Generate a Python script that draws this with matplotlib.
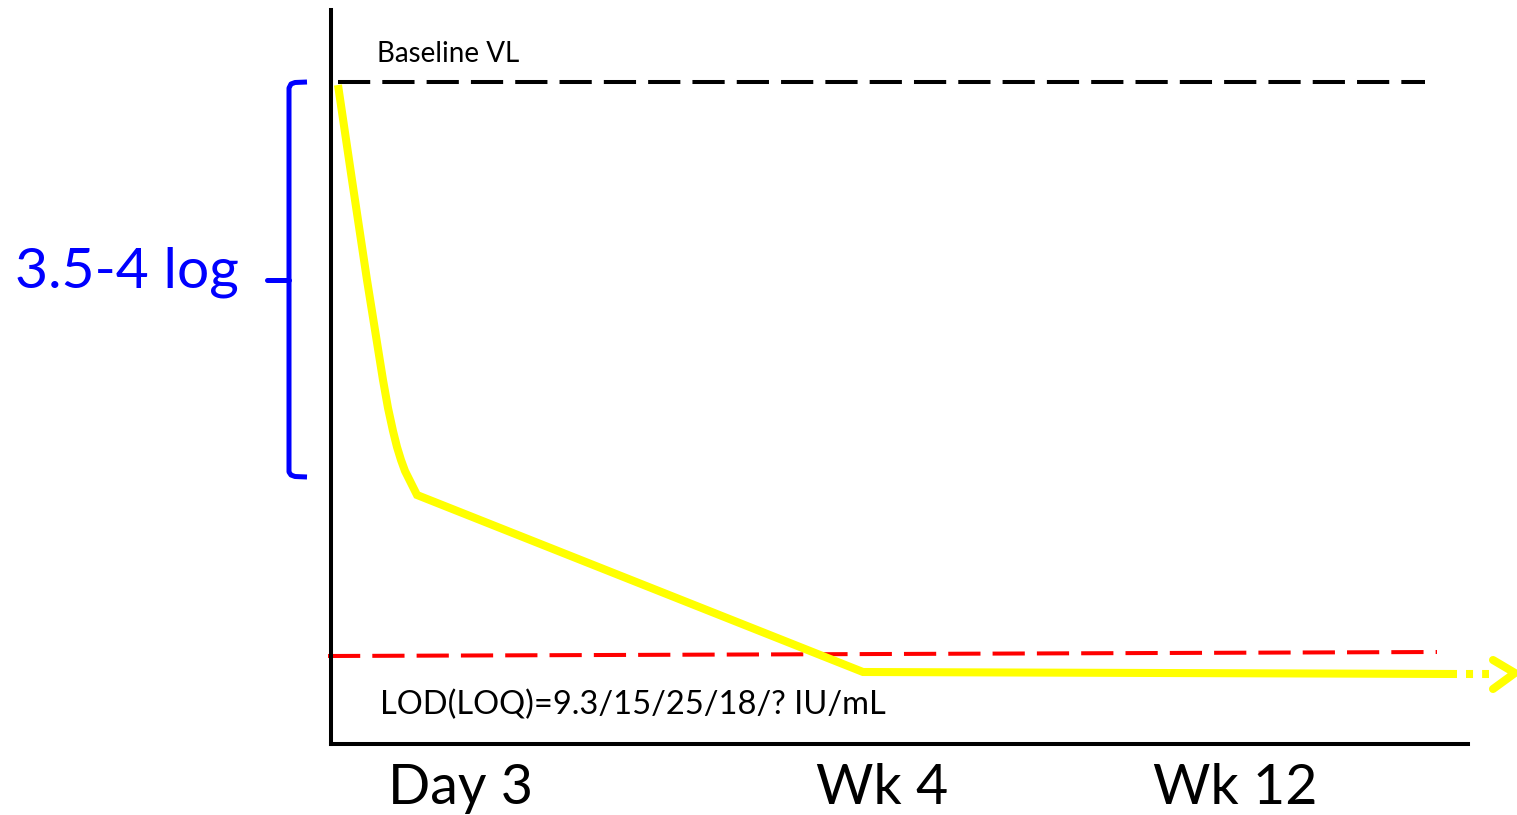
import numpy as np
import matplotlib
matplotlib.use("Agg")
import matplotlib.pyplot as plt

plt.rcParams['font.family'] = ['Lato', 'DejaVu Sans']

# schematic units: x = time (arbitrary), y = viral load (arbitrary log scale)
vl_x = [7, 21, 36, 52, 57, 62, 66, 70, 74, 79, 83, 86, 532, 1126]
vl_y = [659, 564, 464, 364, 336, 313, 297, 284, 273, 263, 255, 249, 72, 70]
tail_x = [1135, 1158]
tail_y = [70, 70]
arrow_x = [1162, 1184, 1162]
arrow_y = [84, 71, 55]

baseline_x = [7, 1094]
baseline_y = [661.5, 661.5]
lod_x = [-3, 1106]
lod_y = [88, 92]

bracket_x = [-24, -36, -40, -42, -42, -40, -36, -24]
bracket_y = [662, 661.5, 660, 656, 272, 269, 267.5, 267]
brace_tick_x = [-42, -64]
brace_tick_y = [464, 464]

tick_pos = [130, 551, 904]
tick_labels = ['Day 3', 'Wk 4', 'Wk 12']

fig = plt.figure(figsize=(15.17, 8.15), dpi=100)
ax = fig.add_axes([331 / 1517, 71 / 815, 1137 / 1517, 734 / 815])
ax.set_xlim(0, 1137)
ax.set_ylim(0, 734)

for s in ['top', 'right']:
    ax.spines[s].set_visible(False)
for s in ['left', 'bottom']:
    ax.spines[s].set_linewidth(2.9)
    ax.spines[s].set_color('black')
ax.set_yticks([])
ax.set_xticks(tick_pos, tick_labels)
ax.tick_params(axis='x', length=0, pad=14, labelsize=40)

# baseline and limit of detection
ax.plot(baseline_x, baseline_y, color='black', lw=2.9, dashes=(8, 3))
ax.plot(lod_x, lod_y, color='#ff0000', lw=2.9, dashes=(8, 3), clip_on=False)

# viral load decline
ax.plot(vl_x, vl_y, color='#ffff00', lw=5.8, solid_capstyle='butt',
        solid_joinstyle='miter', clip_on=False, zorder=3)
ax.plot(tail_x, tail_y, color='#ffff00', lw=5.8, dashes=(0.875, 1.125),
        dash_capstyle='butt', clip_on=False, zorder=3)
ax.plot(arrow_x, arrow_y, color='#ffff00', lw=5.8, solid_capstyle='round',
        solid_joinstyle='round', clip_on=False, zorder=3)

# bracket
ax.plot(bracket_x, bracket_y, color='#0000ff', lw=3.6, clip_on=False,
        solid_joinstyle='round', solid_capstyle='butt')
ax.plot(brace_tick_x, brace_tick_y, color='#0000ff', lw=3.6, clip_on=False,
        solid_capstyle='round')

ax.text(46, 690, 'Baseline VL', fontsize=20, va='center', ha='left')
ax.text(49, 39, 'LOD(LOQ)=9.3/15/25/18/? IU/mL', fontsize=23.5, va='center', ha='left')
ax.text(-316, 472, '3.5-4 log', fontsize=41, color='#0000ff', va='center', ha='left')

fig.savefig('out.png', dpi=100)
